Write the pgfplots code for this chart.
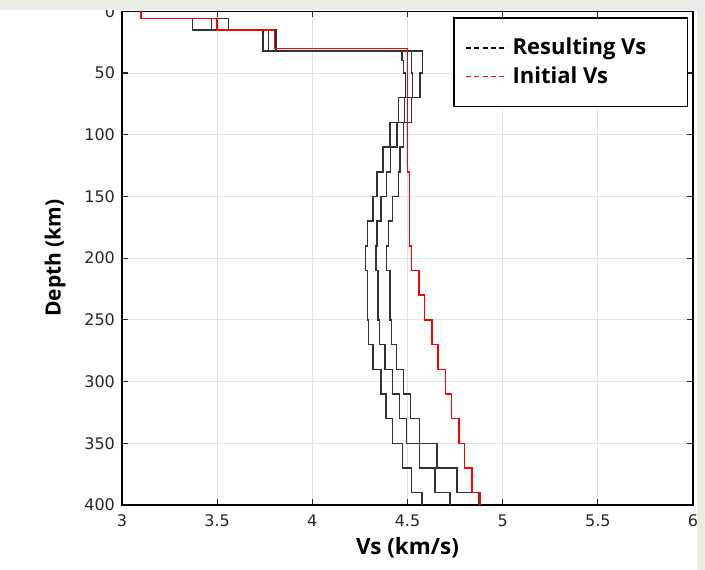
\documentclass[border=0pt]{standalone}
\usepackage{fontspec}
\setmainfont{DejaVu Sans}
\newfontfamily\opensans{Open Sans}
\usepackage{pgfplots}
\pgfplotsset{compat=1.18}
\definecolor{tickgray}{RGB}{38,38,38}
\definecolor{gridgray}{RGB}{226,226,226}
\definecolor{bandgray}{RGB}{236,236,231}
\definecolor{linegray}{RGB}{50,50,50}
\begin{document}
\begin{tikzpicture}
\begin{axis}[
  at={(0pt,0pt)}, anchor=south west,
  scale only axis, width=285.5pt, height=246.85pt,
  xmin=3, xmax=6, ymin=0, ymax=400, y dir=reverse,
  xtick={3,3.5,...,6}, ytick={0,50,...,400},
  grid=major, major grid style={gridgray, line width=0.5pt},
  tick align=inside, major tick length=3pt,
  tick style={tickgray, line width=0.6pt},
  axis line style={black, line width=0.7pt},
  ticklabel style={font=\fontsize{8}{9}\selectfont, text=tickgray},
  /pgf/number format/assume math mode=true,
  xticklabel style={yshift=-1.5pt},
  xlabel={Vs (km/s)}, ylabel={Depth (km)},
  xlabel style={font=\opensans\bfseries\fontsize{11.2}{13}\selectfont,
    at={(axis description cs:0.5,-0.087)}, anchor=center},
  ylabel style={font=\opensans\bfseries\fontsize{10.5}{12}\selectfont,
    at={(axis description cs:-0.117,0.5)}, anchor=center},
  legend style={at={(axis description cs:0.991,0.988)}, anchor=north east,
    draw=black, line width=0.65pt, inner xsep=5.5pt, inner ysep=8pt,
    font=\opensans\bfseries\fontsize{11}{13}\selectfont, row sep=0.5pt,
    cells={anchor=west},
    /tikz/every even column/.append style={column sep=3pt}},
  legend image code/.code={\draw[#1] (0pt,0pt) -- (21pt,0pt);},
]
% Resulting Vs: lower bound
\addplot[linegray, line width=0.75pt, forget plot] coordinates {
(3.10,0)(3.10,6)(3.37,6)(3.37,15)(3.74,15)(3.74,32)(4.47,32)(4.47,40)(4.48,40)(4.48,50)(4.49,50)(4.49,70)
(4.453,70)(4.453,90)(4.408,90)(4.408,110)(4.37,110)(4.37,130)(4.34,130)(4.34,150)(4.32,150)(4.32,170)
(4.29,170)(4.29,190)(4.28,190)(4.28,210)(4.289,210)(4.289,250)(4.295,250)(4.295,270)(4.32,270)(4.32,290)
(4.36,290)(4.36,310)(4.386,310)(4.386,330)(4.42,330)(4.42,350)(4.475,350)(4.475,370)(4.522,370)(4.522,390)
(4.575,390)(4.575,400)};
% Resulting Vs: upper bound
\addplot[linegray, line width=0.75pt, forget plot] coordinates {
(3.10,0)(3.10,6)(3.56,6)(3.56,15)(3.81,15)(3.81,32)(4.58,32)(4.58,50)(4.566,50)(4.566,70)
(4.52,70)(4.52,90)(4.48,90)(4.48,110)(4.46,110)(4.46,130)(4.453,130)(4.453,150)(4.42,150)(4.42,170)
(4.40,170)(4.40,190)(4.39,190)(4.39,210)(4.408,210)(4.408,250)(4.417,250)(4.417,270)(4.443,270)(4.443,290)
(4.478,290)(4.478,310)(4.517,310)(4.517,330)(4.562,330)(4.562,350)(4.654,350)(4.654,370)(4.759,370)(4.759,390)
(4.872,390)(4.872,400)};
% Resulting Vs: mean
\addplot[linegray, line width=0.75pt,
  legend image post style={black, line width=0.8pt, dash pattern=on 2.5pt off 1.7pt}] coordinates {
(3.10,0)(3.10,6)(3.47,6)(3.47,15)(3.77,15)(3.77,32)(4.52,32)(4.52,50)(4.525,50)(4.525,70)
(4.485,70)(4.485,90)(4.445,90)(4.445,110)(4.41,110)(4.41,130)(4.39,130)(4.39,150)(4.36,150)(4.36,170)
(4.34,170)(4.34,190)(4.335,190)(4.335,210)(4.345,210)(4.345,250)(4.352,250)(4.352,270)(4.382,270)(4.382,290)
(4.42,290)(4.42,310)(4.457,310)(4.457,330)(4.496,330)(4.496,350)(4.562,350)(4.562,370)(4.645,370)(4.645,390)
(4.724,390)(4.724,400)};
\addlegendentry{Resulting Vs\hspace*{13pt}\null}
% Initial Vs
\addplot[red, line width=0.75pt,
  legend image post style={red, line width=0.9pt, dash pattern=on 2.5pt off 1.7pt}] coordinates {
(3.10,0)(3.10,6)(3.50,6)(3.50,15)(3.80,15)(3.80,30)(4.50,30)(4.50,130)(4.51,130)(4.51,190)(4.52,190)(4.52,210)
(4.56,210)(4.56,230)(4.59,230)(4.59,250)(4.63,250)(4.63,270)(4.66,270)(4.66,290)(4.70,290)(4.70,310)
(4.73,310)(4.73,330)(4.77,330)(4.77,350)(4.80,350)(4.80,370)(4.84,370)(4.84,390)(4.88,390)(4.88,400)};
\addlegendentry{Initial Vs}
\end{axis}
\fill[bandgray] (-61pt,247.5pt) rectangle (291.5pt,253pt);
\fill[bandgray] (287.5pt,-33pt) rectangle (292pt,253pt);
\pgfresetboundingbox
\useasboundingbox (-61pt,-32pt) rectangle (291.5pt,252.5pt);
\end{tikzpicture}
\end{document}
